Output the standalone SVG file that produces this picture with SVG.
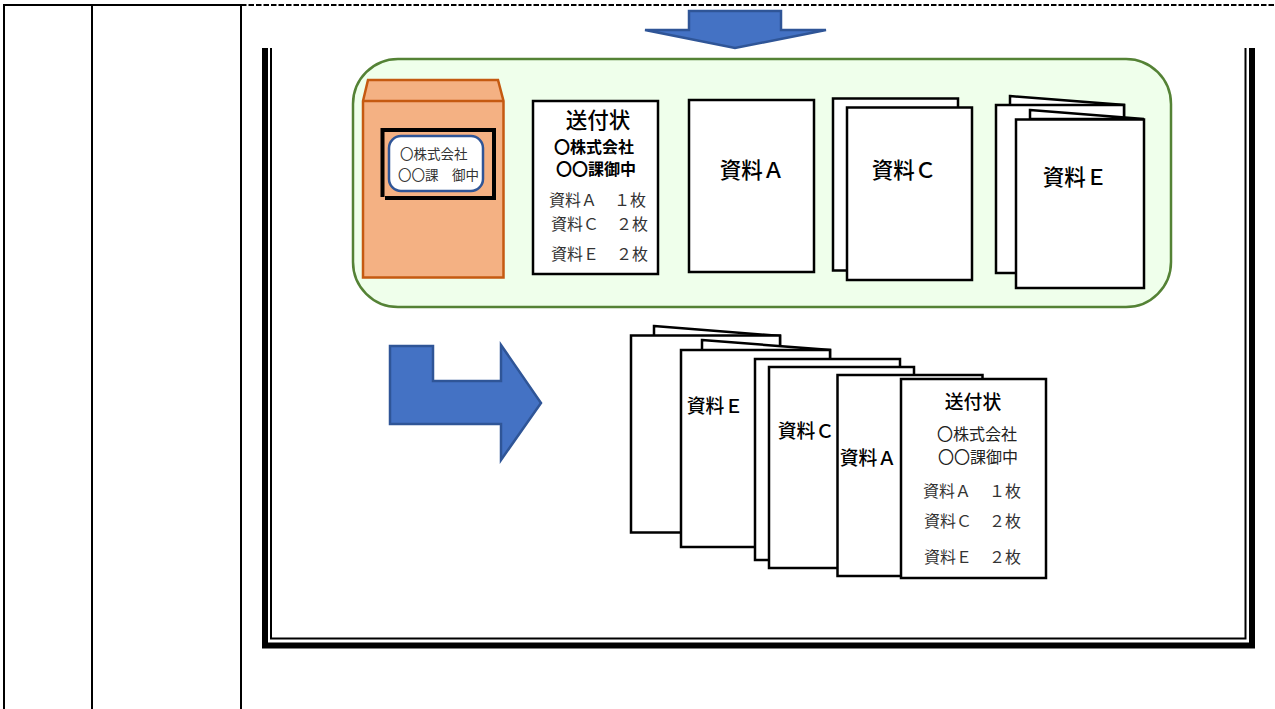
<svg xmlns="http://www.w3.org/2000/svg" width="1275" height="709" viewBox="0 0 1275 709">
<style>
text{font-family:"Noto Sans CJK JP","Liberation Sans",sans-serif;fill:#000}
.p{fill:#fff;stroke:#000;stroke-width:2.5}
.tb{stroke:#000;stroke-width:2;fill:none}
.big{font-size:21.500px;font-weight:500}
.mid{font-size:18.800px;font-weight:500}
.b14{font-size:16px;font-weight:700}
.s{font-size:16px;fill:#333}
.s2{font-size:16px;fill:#222}
.arrow{fill:#4472c4;stroke:#2f5597;stroke-width:2.5}
</style>
<rect width="1275" height="709" fill="#fff"/>
<g id="table">
<path class="tb" d="M4 709V5H241M92 5V709M241 5V709"/>
<path d="M241 5H1275" stroke="#000" stroke-width="2" stroke-dasharray="5.500 2" fill="none"/>
</g>
<g id="frame" fill="none" stroke="#000">
<path d="M265 48V645.500H1252V48" stroke-width="6"/>
<path d="M271 48V638.500H1245.500V48" stroke-width="2"/>
</g>
<g id="arrow-down"><path class="arrow" d="M689 11H781V30H826L735 48L645 30H689Z"/></g>
<g id="panel"><rect x="353" y="59" width="818" height="248" rx="45" fill="#efffeb" stroke="#548235" stroke-width="2.500"/></g>
<g id="envelope">
<path d="M363 101L368 80H498L503.500 101V277.500H363Z" fill="#f4b183" stroke="#c55a11" stroke-width="2.500"/>
<path d="M363 101H503" stroke="#c55a11" stroke-width="2.500" fill="none"/>
<path d="M382.500 197V130H494V198H385" fill="none" stroke="#000" stroke-width="4"/>
<rect x="389" y="136" width="94" height="55" rx="12" fill="#fff" stroke="#2f5597" stroke-width="2.500"/>
<text x="400" y="159" font-size="13.500" style="fill:#333">〇株式会社</text>
<text x="398" y="180" font-size="13.500" style="fill:#333" xml:space="preserve">〇〇課　御中</text>
</g>
<g id="cover">
<rect class="p" x="533" y="101" width="125" height="173"/>
<text class="big" x="598" y="128" text-anchor="middle">送付状</text>
<text class="b14" x="594" y="153" text-anchor="middle">〇株式会社</text>
<text class="b14" x="596" y="175" text-anchor="middle">〇〇課御中</text>
<text class="s" x="549" y="206">資料Ａ</text><text class="s" x="614" y="206">１枚</text>
<text class="s" x="551" y="230">資料Ｃ</text><text class="s" x="616" y="230">２枚</text>
<text class="s" x="551" y="260">資料Ｅ</text><text class="s" x="616" y="260">２枚</text>
</g>
<g id="doc-a"><rect class="p" x="689" y="100" width="125" height="172"/><text class="big" x="752" y="178" text-anchor="middle">資料Ａ</text></g>
<g id="doc-c">
<rect class="p" x="833" y="98.500" width="125" height="172"/>
<rect class="p" x="847" y="107.500" width="125" height="172.500"/>
<text class="big" x="904" y="178" text-anchor="middle">資料Ｃ</text>
</g>
<g id="doc-e">
<path class="p" d="M1010 96L1124 105V120H1010Z"/>
<rect class="p" x="996" y="105" width="128" height="168"/>
<path class="p" d="M1030 110L1144 119H1030Z"/>
<rect class="p" x="1016" y="119.500" width="128" height="168.500"/>
<text class="big" x="1075" y="185" text-anchor="middle">資料Ｅ</text>
</g>
<g id="arrow-right"><path class="arrow" d="M390 346H433V381H501V345L541 403L501 460V424H390Z"/></g>
<g id="stack-e1">
<path class="p" d="M654 326L780 336V350H654Z"/>
<rect class="p" x="631" y="335.500" width="149" height="197"/>
</g>
<g id="stack-e2">
<path class="p" d="M702 340L830 350V360H702Z"/>
<rect class="p" x="681" y="350" width="149" height="197"/>
<text class="mid" x="715" y="413" text-anchor="middle">資料Ｅ</text>
</g>
<g id="stack-c">
<rect class="p" x="755" y="359" width="145" height="201"/>
<rect class="p" x="769" y="367" width="145" height="201"/>
<text class="mid" x="806" y="438" text-anchor="middle">資料Ｃ</text>
</g>
<g id="stack-a">
<rect class="p" x="837.500" y="375" width="145" height="201"/>
<text class="mid" x="868" y="465" text-anchor="middle">資料Ａ</text>
</g>
<g id="stack-cover">
<rect class="p" x="901" y="379" width="145" height="199"/>
<text class="mid" x="973" y="409" text-anchor="middle">送付状</text>
<text class="s2" x="937" y="440">〇株式会社</text>
<text class="s2" x="938" y="463">〇〇課御中</text>
<text class="s" x="923" y="497">資料Ａ</text><text class="s" x="989" y="497">１枚</text>
<text class="s" x="924" y="527">資料Ｃ</text><text class="s" x="989" y="527">２枚</text>
<text class="s" x="924" y="563">資料Ｅ</text><text class="s" x="989" y="563">２枚</text>
</g>
</svg>
